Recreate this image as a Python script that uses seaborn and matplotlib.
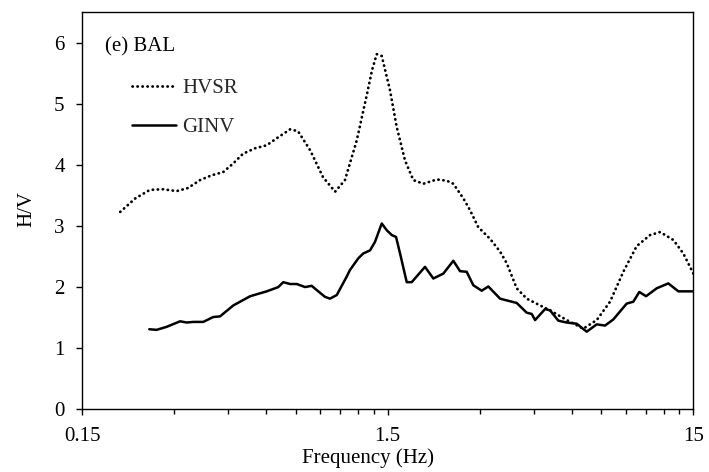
import numpy as np
import pandas as pd
import matplotlib
matplotlib.use("Agg")
import matplotlib.pyplot as plt
import seaborn as sns
from matplotlib.ticker import FixedLocator, NullFormatter

# H/V spectral ratio from microtremor (HVSR) and from generalized inversion (GINV)
hvsr_freq = [0.200, 0.224, 0.250, 0.276, 0.306, 0.333, 0.365, 0.399, 0.434, 0.468,
             0.504, 0.552, 0.603, 0.657, 0.719, 0.763, 0.836, 0.921, 1.009, 1.087,
             1.188, 1.281, 1.333, 1.381, 1.434, 1.526, 1.605, 1.709, 1.819, 1.962,
             2.170, 2.340, 2.459, 2.652, 2.787, 2.967, 3.241, 3.497, 3.677, 3.963,
             4.275, 4.724, 5.094, 5.775, 6.545, 7.242, 8.004, 8.847, 9.786, 10.82,
             11.67, 12.90, 13.90, 15.0]
hvsr_hv = [3.23, 3.45, 3.59, 3.60, 3.57, 3.62, 3.75, 3.83, 3.88, 4.02,
           4.18, 4.27, 4.32, 4.45, 4.58, 4.55, 4.24, 3.80, 3.56, 3.75,
           4.40, 5.14, 5.55, 5.81, 5.78, 5.22, 4.62, 4.07, 3.75, 3.69,
           3.76, 3.74, 3.69, 3.45, 3.26, 2.98, 2.79, 2.58, 2.39, 1.98,
           1.81, 1.70, 1.62, 1.46, 1.32, 1.46, 1.76, 2.25, 2.67, 2.85,
           2.90, 2.77, 2.55, 2.22]

ginv_freq = [0.249, 0.263, 0.284, 0.314, 0.330, 0.347, 0.374, 0.403, 0.424, 0.469,
             0.532, 0.603, 0.658, 0.683, 0.719, 0.756, 0.805, 0.846, 0.879, 0.935,
             0.971, 1.022, 1.101, 1.129, 1.202, 1.248, 1.313, 1.363, 1.434, 1.489,
             1.547, 1.597, 1.646, 1.731, 1.797, 1.962, 1.987, 2.115, 2.280, 2.459,
             2.586, 2.719, 2.858, 3.045, 3.200, 3.497, 3.963, 4.275, 4.439, 4.551,
             4.907, 5.094, 5.423, 5.775, 6.228, 6.715, 7.242, 7.707, 8.205, 9.076,
             9.540, 9.980, 10.50, 11.38, 12.42, 13.39, 15.0]
ginv_hv = [1.31, 1.30, 1.35, 1.44, 1.42, 1.43, 1.43, 1.51, 1.52, 1.70,
           1.85, 1.93, 2.00, 2.08, 2.05, 2.05, 2.00, 2.02, 1.95, 1.84,
           1.81, 1.87, 2.17, 2.28, 2.47, 2.55, 2.60, 2.74, 3.04, 2.93,
           2.85, 2.82, 2.55, 2.08, 2.08, 2.30, 2.33, 2.14, 2.22, 2.43,
           2.26, 2.25, 2.03, 1.94, 2.01, 1.81, 1.74, 1.58, 1.56, 1.46,
           1.64, 1.62, 1.45, 1.42, 1.40, 1.27, 1.39, 1.37, 1.47, 1.73,
           1.76, 1.92, 1.85, 1.98, 2.06, 1.93, 1.93]

x_ticks = [0.15, 1.5, 15]
x_tick_labels = ["0.15", "1.5", "15"]
y_ticks = [0, 1, 2, 3, 4, 5, 6]

sns.set_theme(style="ticks")
plt.rcParams["font.family"] = ["Liberation Serif", "DejaVu Serif"]

FS = 15

fig = plt.figure(figsize=(7.09, 4.72), dpi=100)
ax = fig.add_axes([0.1157, 0.1328, 0.8623, 0.8418])

sns.lineplot(x=hvsr_freq, y=hvsr_hv, ax=ax, color="black", lw=2.0,
             linestyle=(0, (0.1, 1.7)), dash_capstyle="round",
             estimator=None, sort=False, label="HVSR")
sns.lineplot(x=ginv_freq, y=ginv_hv, ax=ax, color="black", lw=1.8,
             solid_joinstyle="round",
             estimator=None, sort=False, label="GINV")

ax.set_xscale("log")
ax.set_xlim(0.15, 15)
ax.set_ylim(0, 6.5)

ax.xaxis.set_major_locator(FixedLocator(x_ticks))
ax.set_xticklabels(x_tick_labels)
minor = [0.15 * k for k in range(2, 10)] + [1.5 * k for k in range(2, 10)]
ax.xaxis.set_minor_locator(FixedLocator(minor))
ax.xaxis.set_minor_formatter(NullFormatter())
ax.set_yticks(y_ticks)

for side in ["top", "right", "left", "bottom"]:
    ax.spines[side].set_visible(True)
    ax.spines[side].set_color("black")
    ax.spines[side].set_linewidth(1.0)

ax.tick_params(axis="both", which="major", direction="out", length=4.5,
               width=1.0, color="black", labelsize=FS, labelcolor="black")
ax.tick_params(axis="x", which="major", pad=8)
ax.tick_params(axis="y", which="major", pad=8)
ax.tick_params(axis="x", which="minor", direction="out", length=3.5,
               width=1.0, color="black")
ax.tick_params(top=False, right=False, which="both")

ax.set_xlabel("Frequency (Hz)", fontsize=FS, color="black")
ax.set_ylabel("H/V", fontsize=FS, color="black")
ax.xaxis.set_label_coords(0.468, -0.097)
ax.yaxis.set_label_coords(-0.075, 0.505)

ax.text(0.037, 0.912, "(e) BAL", transform=ax.transAxes, fontsize=FS,
        ha="left", va="center", color="black")

ax.legend(loc="upper left", bbox_to_anchor=(0.082, 0.832), frameon=False,
          fontsize=FS, handlelength=2.1, handletextpad=0.3,
          labelspacing=0.92, borderpad=0, borderaxespad=0)

fig.savefig("out.png", dpi=100, facecolor="white")
